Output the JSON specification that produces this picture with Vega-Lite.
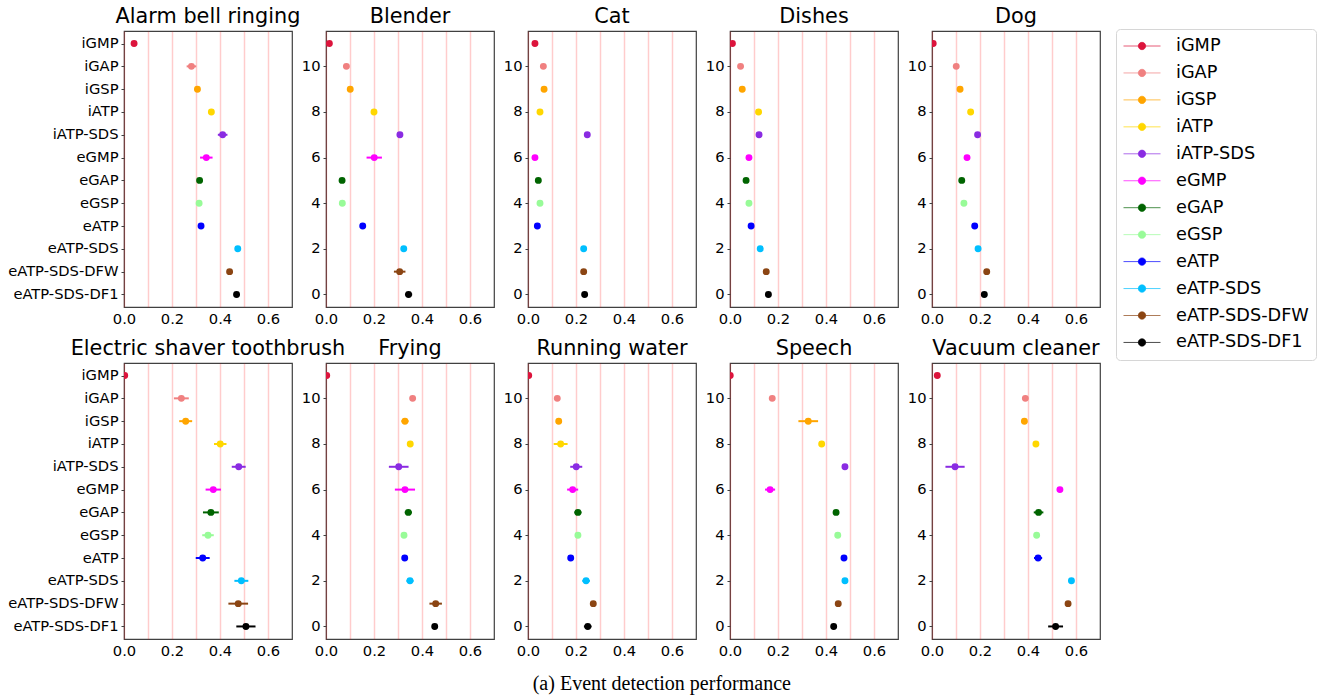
{
"$schema":"https://vega.github.io/schema/vega-lite/v6.json",
"padding":{"left":7,"top":5,"right":0,"bottom":0},
"autosize":{"type":"pad"},
"background":"white",
"data":{"values":[
{"e":"Alarm bell ringing","m":"iGMP","i":11,"v":0.042,"lo":0.036,"hi":0.048},
{"e":"Alarm bell ringing","m":"iGAP","i":10,"v":0.281,"lo":0.261,"hi":0.301},
{"e":"Alarm bell ringing","m":"iGSP","i":9,"v":0.306,"lo":0.298,"hi":0.314},
{"e":"Alarm bell ringing","m":"iATP","i":8,"v":0.364,"lo":0.358,"hi":0.370},
{"e":"Alarm bell ringing","m":"iATP-SDS","i":7,"v":0.411,"lo":0.391,"hi":0.431},
{"e":"Alarm bell ringing","m":"eGMP","i":6,"v":0.343,"lo":0.317,"hi":0.369},
{"e":"Alarm bell ringing","m":"eGAP","i":5,"v":0.315,"lo":0.309,"hi":0.321},
{"e":"Alarm bell ringing","m":"eGSP","i":4,"v":0.313,"lo":0.307,"hi":0.319},
{"e":"Alarm bell ringing","m":"eATP","i":3,"v":0.321,"lo":0.313,"hi":0.329},
{"e":"Alarm bell ringing","m":"eATP-SDS","i":2,"v":0.474,"lo":0.468,"hi":0.480},
{"e":"Alarm bell ringing","m":"eATP-SDS-DFW","i":1,"v":0.440,"lo":0.434,"hi":0.446},
{"e":"Alarm bell ringing","m":"eATP-SDS-DF1","i":0,"v":0.469,"lo":0.463,"hi":0.475},
{"e":"Blender","m":"iGMP","i":11,"v":0.014,"lo":0.008,"hi":0.020},
{"e":"Blender","m":"iGAP","i":10,"v":0.085,"lo":0.079,"hi":0.091},
{"e":"Blender","m":"iGSP","i":9,"v":0.101,"lo":0.095,"hi":0.107},
{"e":"Blender","m":"iATP","i":8,"v":0.200,"lo":0.194,"hi":0.206},
{"e":"Blender","m":"iATP-SDS","i":7,"v":0.308,"lo":0.302,"hi":0.314},
{"e":"Blender","m":"eGMP","i":6,"v":0.201,"lo":0.169,"hi":0.233},
{"e":"Blender","m":"eGAP","i":5,"v":0.067,"lo":0.061,"hi":0.073},
{"e":"Blender","m":"eGSP","i":4,"v":0.068,"lo":0.062,"hi":0.074},
{"e":"Blender","m":"eATP","i":3,"v":0.153,"lo":0.143,"hi":0.163},
{"e":"Blender","m":"eATP-SDS","i":2,"v":0.324,"lo":0.318,"hi":0.330},
{"e":"Blender","m":"eATP-SDS-DFW","i":1,"v":0.307,"lo":0.283,"hi":0.331},
{"e":"Blender","m":"eATP-SDS-DF1","i":0,"v":0.344,"lo":0.329,"hi":0.359},
{"e":"Cat","m":"iGMP","i":11,"v":0.029,"lo":0.023,"hi":0.035},
{"e":"Cat","m":"iGAP","i":10,"v":0.064,"lo":0.058,"hi":0.070},
{"e":"Cat","m":"iGSP","i":9,"v":0.067,"lo":0.061,"hi":0.073},
{"e":"Cat","m":"iATP","i":8,"v":0.050,"lo":0.044,"hi":0.056},
{"e":"Cat","m":"iATP-SDS","i":7,"v":0.247,"lo":0.241,"hi":0.253},
{"e":"Cat","m":"eGMP","i":6,"v":0.029,"lo":0.023,"hi":0.035},
{"e":"Cat","m":"eGAP","i":5,"v":0.043,"lo":0.037,"hi":0.049},
{"e":"Cat","m":"eGSP","i":4,"v":0.050,"lo":0.044,"hi":0.056},
{"e":"Cat","m":"eATP","i":3,"v":0.039,"lo":0.033,"hi":0.045},
{"e":"Cat","m":"eATP-SDS","i":2,"v":0.232,"lo":0.226,"hi":0.238},
{"e":"Cat","m":"eATP-SDS-DFW","i":1,"v":0.232,"lo":0.226,"hi":0.238},
{"e":"Cat","m":"eATP-SDS-DF1","i":0,"v":0.236,"lo":0.230,"hi":0.242},
{"e":"Dishes","m":"iGMP","i":11,"v":0.010,"lo":0.004,"hi":0.016},
{"e":"Dishes","m":"iGAP","i":10,"v":0.044,"lo":0.038,"hi":0.050},
{"e":"Dishes","m":"iGSP","i":9,"v":0.051,"lo":0.045,"hi":0.057},
{"e":"Dishes","m":"iATP","i":8,"v":0.119,"lo":0.113,"hi":0.125},
{"e":"Dishes","m":"iATP-SDS","i":7,"v":0.121,"lo":0.115,"hi":0.127},
{"e":"Dishes","m":"eGMP","i":6,"v":0.079,"lo":0.073,"hi":0.085},
{"e":"Dishes","m":"eGAP","i":5,"v":0.067,"lo":0.061,"hi":0.073},
{"e":"Dishes","m":"eGSP","i":4,"v":0.079,"lo":0.073,"hi":0.085},
{"e":"Dishes","m":"eATP","i":3,"v":0.088,"lo":0.082,"hi":0.094},
{"e":"Dishes","m":"eATP-SDS","i":2,"v":0.126,"lo":0.120,"hi":0.132},
{"e":"Dishes","m":"eATP-SDS-DFW","i":1,"v":0.151,"lo":0.145,"hi":0.157},
{"e":"Dishes","m":"eATP-SDS-DF1","i":0,"v":0.160,"lo":0.154,"hi":0.166},
{"e":"Dog","m":"iGMP","i":11,"v":0.005,"lo":0.000,"hi":0.011},
{"e":"Dog","m":"iGAP","i":10,"v":0.101,"lo":0.095,"hi":0.107},
{"e":"Dog","m":"iGSP","i":9,"v":0.117,"lo":0.111,"hi":0.123},
{"e":"Dog","m":"iATP","i":8,"v":0.161,"lo":0.155,"hi":0.167},
{"e":"Dog","m":"iATP-SDS","i":7,"v":0.190,"lo":0.184,"hi":0.196},
{"e":"Dog","m":"eGMP","i":6,"v":0.146,"lo":0.140,"hi":0.152},
{"e":"Dog","m":"eGAP","i":5,"v":0.124,"lo":0.118,"hi":0.130},
{"e":"Dog","m":"eGSP","i":4,"v":0.133,"lo":0.127,"hi":0.139},
{"e":"Dog","m":"eATP","i":3,"v":0.178,"lo":0.172,"hi":0.184},
{"e":"Dog","m":"eATP-SDS","i":2,"v":0.192,"lo":0.186,"hi":0.198},
{"e":"Dog","m":"eATP-SDS-DFW","i":1,"v":0.228,"lo":0.222,"hi":0.234},
{"e":"Dog","m":"eATP-SDS-DF1","i":0,"v":0.218,"lo":0.212,"hi":0.224},
{"e":"Electric shaver toothbrush","m":"iGMP","i":11,"v":0.003,"lo":0.000,"hi":0.008},
{"e":"Electric shaver toothbrush","m":"iGAP","i":10,"v":0.239,"lo":0.208,"hi":0.270},
{"e":"Electric shaver toothbrush","m":"iGSP","i":9,"v":0.257,"lo":0.230,"hi":0.284},
{"e":"Electric shaver toothbrush","m":"iATP","i":8,"v":0.401,"lo":0.375,"hi":0.427},
{"e":"Electric shaver toothbrush","m":"iATP-SDS","i":7,"v":0.478,"lo":0.449,"hi":0.507},
{"e":"Electric shaver toothbrush","m":"eGMP","i":6,"v":0.372,"lo":0.340,"hi":0.404},
{"e":"Electric shaver toothbrush","m":"eGAP","i":5,"v":0.362,"lo":0.329,"hi":0.395},
{"e":"Electric shaver toothbrush","m":"eGSP","i":4,"v":0.350,"lo":0.326,"hi":0.374},
{"e":"Electric shaver toothbrush","m":"eATP","i":3,"v":0.328,"lo":0.299,"hi":0.357},
{"e":"Electric shaver toothbrush","m":"eATP-SDS","i":2,"v":0.489,"lo":0.460,"hi":0.518},
{"e":"Electric shaver toothbrush","m":"eATP-SDS-DFW","i":1,"v":0.476,"lo":0.435,"hi":0.517},
{"e":"Electric shaver toothbrush","m":"eATP-SDS-DF1","i":0,"v":0.508,"lo":0.468,"hi":0.548},
{"e":"Frying","m":"iGMP","i":11,"v":0.003,"lo":0.000,"hi":0.008},
{"e":"Frying","m":"iGAP","i":10,"v":0.361,"lo":0.355,"hi":0.367},
{"e":"Frying","m":"iGSP","i":9,"v":0.329,"lo":0.314,"hi":0.344},
{"e":"Frying","m":"iATP","i":8,"v":0.351,"lo":0.345,"hi":0.357},
{"e":"Frying","m":"iATP-SDS","i":7,"v":0.303,"lo":0.262,"hi":0.344},
{"e":"Frying","m":"eGMP","i":6,"v":0.329,"lo":0.287,"hi":0.371},
{"e":"Frying","m":"eGAP","i":5,"v":0.343,"lo":0.328,"hi":0.358},
{"e":"Frying","m":"eGSP","i":4,"v":0.325,"lo":0.319,"hi":0.331},
{"e":"Frying","m":"eATP","i":3,"v":0.328,"lo":0.322,"hi":0.334},
{"e":"Frying","m":"eATP-SDS","i":2,"v":0.350,"lo":0.335,"hi":0.365},
{"e":"Frying","m":"eATP-SDS-DFW","i":1,"v":0.457,"lo":0.431,"hi":0.483},
{"e":"Frying","m":"eATP-SDS-DF1","i":0,"v":0.453,"lo":0.447,"hi":0.459},
{"e":"Running water","m":"iGMP","i":11,"v":0.003,"lo":0.000,"hi":0.008},
{"e":"Running water","m":"iGAP","i":10,"v":0.122,"lo":0.116,"hi":0.128},
{"e":"Running water","m":"iGSP","i":9,"v":0.128,"lo":0.122,"hi":0.134},
{"e":"Running water","m":"iATP","i":8,"v":0.136,"lo":0.107,"hi":0.165},
{"e":"Running water","m":"iATP-SDS","i":7,"v":0.201,"lo":0.176,"hi":0.226},
{"e":"Running water","m":"eGMP","i":6,"v":0.186,"lo":0.163,"hi":0.209},
{"e":"Running water","m":"eGAP","i":5,"v":0.208,"lo":0.193,"hi":0.223},
{"e":"Running water","m":"eGSP","i":4,"v":0.208,"lo":0.202,"hi":0.214},
{"e":"Running water","m":"eATP","i":3,"v":0.178,"lo":0.172,"hi":0.184},
{"e":"Running water","m":"eATP-SDS","i":2,"v":0.242,"lo":0.226,"hi":0.258},
{"e":"Running water","m":"eATP-SDS-DFW","i":1,"v":0.272,"lo":0.266,"hi":0.278},
{"e":"Running water","m":"eATP-SDS-DF1","i":0,"v":0.249,"lo":0.233,"hi":0.265},
{"e":"Speech","m":"iGMP","i":11,"v":0.001,"lo":0.000,"hi":0.006},
{"e":"Speech","m":"iGAP","i":10,"v":0.176,"lo":0.170,"hi":0.182},
{"e":"Speech","m":"iGSP","i":9,"v":0.326,"lo":0.285,"hi":0.367},
{"e":"Speech","m":"iATP","i":8,"v":0.382,"lo":0.376,"hi":0.388},
{"e":"Speech","m":"iATP-SDS","i":7,"v":0.479,"lo":0.473,"hi":0.485},
{"e":"Speech","m":"eGMP","i":6,"v":0.167,"lo":0.146,"hi":0.188},
{"e":"Speech","m":"eGAP","i":5,"v":0.442,"lo":0.436,"hi":0.448},
{"e":"Speech","m":"eGSP","i":4,"v":0.449,"lo":0.443,"hi":0.455},
{"e":"Speech","m":"eATP","i":3,"v":0.475,"lo":0.469,"hi":0.481},
{"e":"Speech","m":"eATP-SDS","i":2,"v":0.479,"lo":0.473,"hi":0.485},
{"e":"Speech","m":"eATP-SDS-DFW","i":1,"v":0.451,"lo":0.445,"hi":0.457},
{"e":"Speech","m":"eATP-SDS-DF1","i":0,"v":0.432,"lo":0.426,"hi":0.438},
{"e":"Vacuum cleaner","m":"iGMP","i":11,"v":0.022,"lo":0.016,"hi":0.028},
{"e":"Vacuum cleaner","m":"iGAP","i":10,"v":0.389,"lo":0.383,"hi":0.395},
{"e":"Vacuum cleaner","m":"iGSP","i":9,"v":0.385,"lo":0.379,"hi":0.391},
{"e":"Vacuum cleaner","m":"iATP","i":8,"v":0.433,"lo":0.427,"hi":0.439},
{"e":"Vacuum cleaner","m":"iATP-SDS","i":7,"v":0.096,"lo":0.056,"hi":0.136},
{"e":"Vacuum cleaner","m":"eGMP","i":6,"v":0.533,"lo":0.527,"hi":0.539},
{"e":"Vacuum cleaner","m":"eGAP","i":5,"v":0.444,"lo":0.424,"hi":0.464},
{"e":"Vacuum cleaner","m":"eGSP","i":4,"v":0.436,"lo":0.430,"hi":0.442},
{"e":"Vacuum cleaner","m":"eATP","i":3,"v":0.442,"lo":0.425,"hi":0.459},
{"e":"Vacuum cleaner","m":"eATP-SDS","i":2,"v":0.581,"lo":0.575,"hi":0.587},
{"e":"Vacuum cleaner","m":"eATP-SDS-DFW","i":1,"v":0.567,"lo":0.561,"hi":0.573},
{"e":"Vacuum cleaner","m":"eATP-SDS-DF1","i":0,"v":0.515,"lo":0.484,"hi":0.546}
]},
"title":{"text":"(a) Event detection performance","orient":"bottom","anchor":"middle","font":"Liberation Serif","fontSize":20,"fontWeight":"normal","color":"#000000","offset":16},
"columns":5,
"spacing":{"row":56,"column":34},
"bounds":"flush",
"concat":[
{"title":"Alarm bell ringing","width":168,"height":276,"transform":[{"filter":{"field":"e","equal":"Alarm bell ringing"}}],
 "encoding":{
  "y":{"field":"i","type":"quantitative","title":null,"scale":{"domain":[-0.55,11.55],"nice":false,"zero":false},"axis":{"values":[0,1,2,3,4,5,6,7,8,9,10,11],"tickCount":20,"labelExpr":"['eATP-SDS-DF1','eATP-SDS-DFW','eATP-SDS','eATP','eGSP','eGAP','eGMP','iATP-SDS','iATP','iGSP','iGAP','iGMP'][datum.value]"}},
  "color":{"field":"m","type":"nominal","title":null,"scale":{"domain":["iGMP","iGAP","iGSP","iATP","iATP-SDS","eGMP","eGAP","eGSP","eATP","eATP-SDS","eATP-SDS-DFW","eATP-SDS-DF1"],"range":["#dc143c","#f08080","#ffa500","#ffd700","#8a2be2","#ff00ff","#006400","#98fb98","#0000ff","#00bfff","#8b4513","#000000"]},"legend":{"orient":"none","legendX":992,"legendY":-2,"encode":{"symbols":{"update":{"fill":{"scale":"color","field":"value"},"stroke":{"scale":"color","field":"value"},"opacity":{"value":1},"strokeOpacity":{"value":0.7}}}}}}},
 "layer":[
  {"mark":{"type":"rule","strokeWidth":2,"clip":true},"encoding":{"x":{"field":"lo","type":"quantitative","title":null,"scale":{"domain":[0,0.7],"nice":false,"zero":false},"axis":{"values":[0,0.1,0.2,0.3,0.4,0.5,0.6],"tickCount":20,"labelExpr":"round(datum.value*10)%2==0 ? format(datum.value,'.1f') : ''"}},"x2":{"field":"hi"}}},
  {"mark":{"type":"circle","size":48,"opacity":1,"clip":true},"encoding":{"x":{"field":"v","type":"quantitative","title":null,"scale":{"domain":[0,0.7],"nice":false,"zero":false}}}}
 ]},
{"title":"Blender","width":168,"height":276,"transform":[{"filter":{"field":"e","equal":"Blender"}}],
 "encoding":{
  "y":{"field":"i","type":"quantitative","title":null,"scale":{"domain":[-0.55,11.55],"nice":false,"zero":false},"axis":{"values":[0,2,4,6,8,10],"tickCount":20,"format":"d"}},
  "color":{"field":"m","type":"nominal","title":null,"scale":{"domain":["iGMP","iGAP","iGSP","iATP","iATP-SDS","eGMP","eGAP","eGSP","eATP","eATP-SDS","eATP-SDS-DFW","eATP-SDS-DF1"],"range":["#dc143c","#f08080","#ffa500","#ffd700","#8a2be2","#ff00ff","#006400","#98fb98","#0000ff","#00bfff","#8b4513","#000000"]},"legend":{"orient":"none","legendX":992,"legendY":-2,"encode":{"symbols":{"update":{"fill":{"scale":"color","field":"value"},"stroke":{"scale":"color","field":"value"},"opacity":{"value":1},"strokeOpacity":{"value":0.7}}}}}}},
 "layer":[
  {"mark":{"type":"rule","strokeWidth":2,"clip":true},"encoding":{"x":{"field":"lo","type":"quantitative","title":null,"scale":{"domain":[0,0.7],"nice":false,"zero":false},"axis":{"values":[0,0.1,0.2,0.3,0.4,0.5,0.6],"tickCount":20,"labelExpr":"round(datum.value*10)%2==0 ? format(datum.value,'.1f') : ''"}},"x2":{"field":"hi"}}},
  {"mark":{"type":"circle","size":48,"opacity":1,"clip":true},"encoding":{"x":{"field":"v","type":"quantitative","title":null,"scale":{"domain":[0,0.7],"nice":false,"zero":false}}}}
 ]},
{"title":"Cat","width":168,"height":276,"transform":[{"filter":{"field":"e","equal":"Cat"}}],
 "encoding":{
  "y":{"field":"i","type":"quantitative","title":null,"scale":{"domain":[-0.55,11.55],"nice":false,"zero":false},"axis":{"values":[0,2,4,6,8,10],"tickCount":20,"format":"d"}},
  "color":{"field":"m","type":"nominal","title":null,"scale":{"domain":["iGMP","iGAP","iGSP","iATP","iATP-SDS","eGMP","eGAP","eGSP","eATP","eATP-SDS","eATP-SDS-DFW","eATP-SDS-DF1"],"range":["#dc143c","#f08080","#ffa500","#ffd700","#8a2be2","#ff00ff","#006400","#98fb98","#0000ff","#00bfff","#8b4513","#000000"]},"legend":{"orient":"none","legendX":992,"legendY":-2,"encode":{"symbols":{"update":{"fill":{"scale":"color","field":"value"},"stroke":{"scale":"color","field":"value"},"opacity":{"value":1},"strokeOpacity":{"value":0.7}}}}}}},
 "layer":[
  {"mark":{"type":"rule","strokeWidth":2,"clip":true},"encoding":{"x":{"field":"lo","type":"quantitative","title":null,"scale":{"domain":[0,0.7],"nice":false,"zero":false},"axis":{"values":[0,0.1,0.2,0.3,0.4,0.5,0.6],"tickCount":20,"labelExpr":"round(datum.value*10)%2==0 ? format(datum.value,'.1f') : ''"}},"x2":{"field":"hi"}}},
  {"mark":{"type":"circle","size":48,"opacity":1,"clip":true},"encoding":{"x":{"field":"v","type":"quantitative","title":null,"scale":{"domain":[0,0.7],"nice":false,"zero":false}}}}
 ]},
{"title":"Dishes","width":168,"height":276,"transform":[{"filter":{"field":"e","equal":"Dishes"}}],
 "encoding":{
  "y":{"field":"i","type":"quantitative","title":null,"scale":{"domain":[-0.55,11.55],"nice":false,"zero":false},"axis":{"values":[0,2,4,6,8,10],"tickCount":20,"format":"d"}},
  "color":{"field":"m","type":"nominal","title":null,"scale":{"domain":["iGMP","iGAP","iGSP","iATP","iATP-SDS","eGMP","eGAP","eGSP","eATP","eATP-SDS","eATP-SDS-DFW","eATP-SDS-DF1"],"range":["#dc143c","#f08080","#ffa500","#ffd700","#8a2be2","#ff00ff","#006400","#98fb98","#0000ff","#00bfff","#8b4513","#000000"]},"legend":{"orient":"none","legendX":992,"legendY":-2,"encode":{"symbols":{"update":{"fill":{"scale":"color","field":"value"},"stroke":{"scale":"color","field":"value"},"opacity":{"value":1},"strokeOpacity":{"value":0.7}}}}}}},
 "layer":[
  {"mark":{"type":"rule","strokeWidth":2,"clip":true},"encoding":{"x":{"field":"lo","type":"quantitative","title":null,"scale":{"domain":[0,0.7],"nice":false,"zero":false},"axis":{"values":[0,0.1,0.2,0.3,0.4,0.5,0.6],"tickCount":20,"labelExpr":"round(datum.value*10)%2==0 ? format(datum.value,'.1f') : ''"}},"x2":{"field":"hi"}}},
  {"mark":{"type":"circle","size":48,"opacity":1,"clip":true},"encoding":{"x":{"field":"v","type":"quantitative","title":null,"scale":{"domain":[0,0.7],"nice":false,"zero":false}}}}
 ]},
{"title":"Dog","width":168,"height":276,"transform":[{"filter":{"field":"e","equal":"Dog"}}],
 "encoding":{
  "y":{"field":"i","type":"quantitative","title":null,"scale":{"domain":[-0.55,11.55],"nice":false,"zero":false},"axis":{"values":[0,2,4,6,8,10],"tickCount":20,"format":"d"}},
  "color":{"field":"m","type":"nominal","title":null,"scale":{"domain":["iGMP","iGAP","iGSP","iATP","iATP-SDS","eGMP","eGAP","eGSP","eATP","eATP-SDS","eATP-SDS-DFW","eATP-SDS-DF1"],"range":["#dc143c","#f08080","#ffa500","#ffd700","#8a2be2","#ff00ff","#006400","#98fb98","#0000ff","#00bfff","#8b4513","#000000"]},"legend":{"orient":"none","legendX":992,"legendY":-2,"encode":{"symbols":{"update":{"fill":{"scale":"color","field":"value"},"stroke":{"scale":"color","field":"value"},"opacity":{"value":1},"strokeOpacity":{"value":0.7}}}}}}},
 "layer":[
  {"mark":{"type":"rule","strokeWidth":2,"clip":true},"encoding":{"x":{"field":"lo","type":"quantitative","title":null,"scale":{"domain":[0,0.7],"nice":false,"zero":false},"axis":{"values":[0,0.1,0.2,0.3,0.4,0.5,0.6],"tickCount":20,"labelExpr":"round(datum.value*10)%2==0 ? format(datum.value,'.1f') : ''"}},"x2":{"field":"hi"}}},
  {"mark":{"type":"circle","size":48,"opacity":1,"clip":true},"encoding":{"x":{"field":"v","type":"quantitative","title":null,"scale":{"domain":[0,0.7],"nice":false,"zero":false}}}}
 ]},
{"title":"Electric shaver toothbrush","width":168,"height":276,"transform":[{"filter":{"field":"e","equal":"Electric shaver toothbrush"}}],
 "encoding":{
  "y":{"field":"i","type":"quantitative","title":null,"scale":{"domain":[-0.55,11.55],"nice":false,"zero":false},"axis":{"values":[0,1,2,3,4,5,6,7,8,9,10,11],"tickCount":20,"labelExpr":"['eATP-SDS-DF1','eATP-SDS-DFW','eATP-SDS','eATP','eGSP','eGAP','eGMP','iATP-SDS','iATP','iGSP','iGAP','iGMP'][datum.value]"}},
  "color":{"field":"m","type":"nominal","title":null,"scale":{"domain":["iGMP","iGAP","iGSP","iATP","iATP-SDS","eGMP","eGAP","eGSP","eATP","eATP-SDS","eATP-SDS-DFW","eATP-SDS-DF1"],"range":["#dc143c","#f08080","#ffa500","#ffd700","#8a2be2","#ff00ff","#006400","#98fb98","#0000ff","#00bfff","#8b4513","#000000"]},"legend":{"orient":"none","legendX":992,"legendY":-2,"encode":{"symbols":{"update":{"fill":{"scale":"color","field":"value"},"stroke":{"scale":"color","field":"value"},"opacity":{"value":1},"strokeOpacity":{"value":0.7}}}}}}},
 "layer":[
  {"mark":{"type":"rule","strokeWidth":2,"clip":true},"encoding":{"x":{"field":"lo","type":"quantitative","title":null,"scale":{"domain":[0,0.7],"nice":false,"zero":false},"axis":{"values":[0,0.1,0.2,0.3,0.4,0.5,0.6],"tickCount":20,"labelExpr":"round(datum.value*10)%2==0 ? format(datum.value,'.1f') : ''"}},"x2":{"field":"hi"}}},
  {"mark":{"type":"circle","size":48,"opacity":1,"clip":true},"encoding":{"x":{"field":"v","type":"quantitative","title":null,"scale":{"domain":[0,0.7],"nice":false,"zero":false}}}}
 ]},
{"title":"Frying","width":168,"height":276,"transform":[{"filter":{"field":"e","equal":"Frying"}}],
 "encoding":{
  "y":{"field":"i","type":"quantitative","title":null,"scale":{"domain":[-0.55,11.55],"nice":false,"zero":false},"axis":{"values":[0,2,4,6,8,10],"tickCount":20,"format":"d"}},
  "color":{"field":"m","type":"nominal","title":null,"scale":{"domain":["iGMP","iGAP","iGSP","iATP","iATP-SDS","eGMP","eGAP","eGSP","eATP","eATP-SDS","eATP-SDS-DFW","eATP-SDS-DF1"],"range":["#dc143c","#f08080","#ffa500","#ffd700","#8a2be2","#ff00ff","#006400","#98fb98","#0000ff","#00bfff","#8b4513","#000000"]},"legend":{"orient":"none","legendX":992,"legendY":-2,"encode":{"symbols":{"update":{"fill":{"scale":"color","field":"value"},"stroke":{"scale":"color","field":"value"},"opacity":{"value":1},"strokeOpacity":{"value":0.7}}}}}}},
 "layer":[
  {"mark":{"type":"rule","strokeWidth":2,"clip":true},"encoding":{"x":{"field":"lo","type":"quantitative","title":null,"scale":{"domain":[0,0.7],"nice":false,"zero":false},"axis":{"values":[0,0.1,0.2,0.3,0.4,0.5,0.6],"tickCount":20,"labelExpr":"round(datum.value*10)%2==0 ? format(datum.value,'.1f') : ''"}},"x2":{"field":"hi"}}},
  {"mark":{"type":"circle","size":48,"opacity":1,"clip":true},"encoding":{"x":{"field":"v","type":"quantitative","title":null,"scale":{"domain":[0,0.7],"nice":false,"zero":false}}}}
 ]},
{"title":"Running water","width":168,"height":276,"transform":[{"filter":{"field":"e","equal":"Running water"}}],
 "encoding":{
  "y":{"field":"i","type":"quantitative","title":null,"scale":{"domain":[-0.55,11.55],"nice":false,"zero":false},"axis":{"values":[0,2,4,6,8,10],"tickCount":20,"format":"d"}},
  "color":{"field":"m","type":"nominal","title":null,"scale":{"domain":["iGMP","iGAP","iGSP","iATP","iATP-SDS","eGMP","eGAP","eGSP","eATP","eATP-SDS","eATP-SDS-DFW","eATP-SDS-DF1"],"range":["#dc143c","#f08080","#ffa500","#ffd700","#8a2be2","#ff00ff","#006400","#98fb98","#0000ff","#00bfff","#8b4513","#000000"]},"legend":{"orient":"none","legendX":992,"legendY":-2,"encode":{"symbols":{"update":{"fill":{"scale":"color","field":"value"},"stroke":{"scale":"color","field":"value"},"opacity":{"value":1},"strokeOpacity":{"value":0.7}}}}}}},
 "layer":[
  {"mark":{"type":"rule","strokeWidth":2,"clip":true},"encoding":{"x":{"field":"lo","type":"quantitative","title":null,"scale":{"domain":[0,0.7],"nice":false,"zero":false},"axis":{"values":[0,0.1,0.2,0.3,0.4,0.5,0.6],"tickCount":20,"labelExpr":"round(datum.value*10)%2==0 ? format(datum.value,'.1f') : ''"}},"x2":{"field":"hi"}}},
  {"mark":{"type":"circle","size":48,"opacity":1,"clip":true},"encoding":{"x":{"field":"v","type":"quantitative","title":null,"scale":{"domain":[0,0.7],"nice":false,"zero":false}}}}
 ]},
{"title":"Speech","width":168,"height":276,"transform":[{"filter":{"field":"e","equal":"Speech"}}],
 "encoding":{
  "y":{"field":"i","type":"quantitative","title":null,"scale":{"domain":[-0.55,11.55],"nice":false,"zero":false},"axis":{"values":[0,2,4,6,8,10],"tickCount":20,"format":"d"}},
  "color":{"field":"m","type":"nominal","title":null,"scale":{"domain":["iGMP","iGAP","iGSP","iATP","iATP-SDS","eGMP","eGAP","eGSP","eATP","eATP-SDS","eATP-SDS-DFW","eATP-SDS-DF1"],"range":["#dc143c","#f08080","#ffa500","#ffd700","#8a2be2","#ff00ff","#006400","#98fb98","#0000ff","#00bfff","#8b4513","#000000"]},"legend":{"orient":"none","legendX":992,"legendY":-2,"encode":{"symbols":{"update":{"fill":{"scale":"color","field":"value"},"stroke":{"scale":"color","field":"value"},"opacity":{"value":1},"strokeOpacity":{"value":0.7}}}}}}},
 "layer":[
  {"mark":{"type":"rule","strokeWidth":2,"clip":true},"encoding":{"x":{"field":"lo","type":"quantitative","title":null,"scale":{"domain":[0,0.7],"nice":false,"zero":false},"axis":{"values":[0,0.1,0.2,0.3,0.4,0.5,0.6],"tickCount":20,"labelExpr":"round(datum.value*10)%2==0 ? format(datum.value,'.1f') : ''"}},"x2":{"field":"hi"}}},
  {"mark":{"type":"circle","size":48,"opacity":1,"clip":true},"encoding":{"x":{"field":"v","type":"quantitative","title":null,"scale":{"domain":[0,0.7],"nice":false,"zero":false}}}}
 ]},
{"title":"Vacuum cleaner","width":168,"height":276,"transform":[{"filter":{"field":"e","equal":"Vacuum cleaner"}}],
 "encoding":{
  "y":{"field":"i","type":"quantitative","title":null,"scale":{"domain":[-0.55,11.55],"nice":false,"zero":false},"axis":{"values":[0,2,4,6,8,10],"tickCount":20,"format":"d"}},
  "color":{"field":"m","type":"nominal","title":null,"scale":{"domain":["iGMP","iGAP","iGSP","iATP","iATP-SDS","eGMP","eGAP","eGSP","eATP","eATP-SDS","eATP-SDS-DFW","eATP-SDS-DF1"],"range":["#dc143c","#f08080","#ffa500","#ffd700","#8a2be2","#ff00ff","#006400","#98fb98","#0000ff","#00bfff","#8b4513","#000000"]},"legend":{"orient":"none","legendX":992,"legendY":-2,"encode":{"symbols":{"update":{"fill":{"scale":"color","field":"value"},"stroke":{"scale":"color","field":"value"},"opacity":{"value":1},"strokeOpacity":{"value":0.7}}}}}}},
 "layer":[
  {"mark":{"type":"rule","strokeWidth":2,"clip":true},"encoding":{"x":{"field":"lo","type":"quantitative","title":null,"scale":{"domain":[0,0.7],"nice":false,"zero":false},"axis":{"values":[0,0.1,0.2,0.3,0.4,0.5,0.6],"tickCount":20,"labelExpr":"round(datum.value*10)%2==0 ? format(datum.value,'.1f') : ''"}},"x2":{"field":"hi"}}},
  {"mark":{"type":"circle","size":48,"opacity":1,"clip":true},"encoding":{"x":{"field":"v","type":"quantitative","title":null,"scale":{"domain":[0,0.7],"nice":false,"zero":false}}}}
 ]}
],
"config":{
 "font":"DejaVu Sans",
 "view":{"stroke":"#404040","strokeWidth":1.2},
 "axis":{"labelFont":"DejaVu Sans","labelFontSize":14.7,"labelColor":"#000000","domain":false,"grid":false,"tickColor":"#404040","tickSize":3,"labelPadding":3,"labelOverlap":false,"labelFlush":false,"labelBound":false},
 "axisX":{"grid":true,"gridColor":"#ff0000","gridOpacity":0.2,"gridWidth":1.5,"ticks":false,"labelPadding":4},
 "title":{"font":"DejaVu Sans","fontSize":20.8,"fontWeight":"normal","color":"#000000","offset":3,"anchor":"middle"},
 "legend":{"symbolType":"M-1,0H1M0.2,0A0.2,0.2,0,1,1,-0.2,0A0.2,0.2,0,1,1,0.2,0Z","symbolSize":1369,"symbolStrokeWidth":1,"clipHeight":20,"rowPadding":6.95,"labelFont":"DejaVu Sans","labelFontSize":17.7,"labelColor":"#000000","labelOffset":15,"padding":7,"strokeColor":"#d6d6d6","fillColor":"#ffffff","cornerRadius":4}
}
}
